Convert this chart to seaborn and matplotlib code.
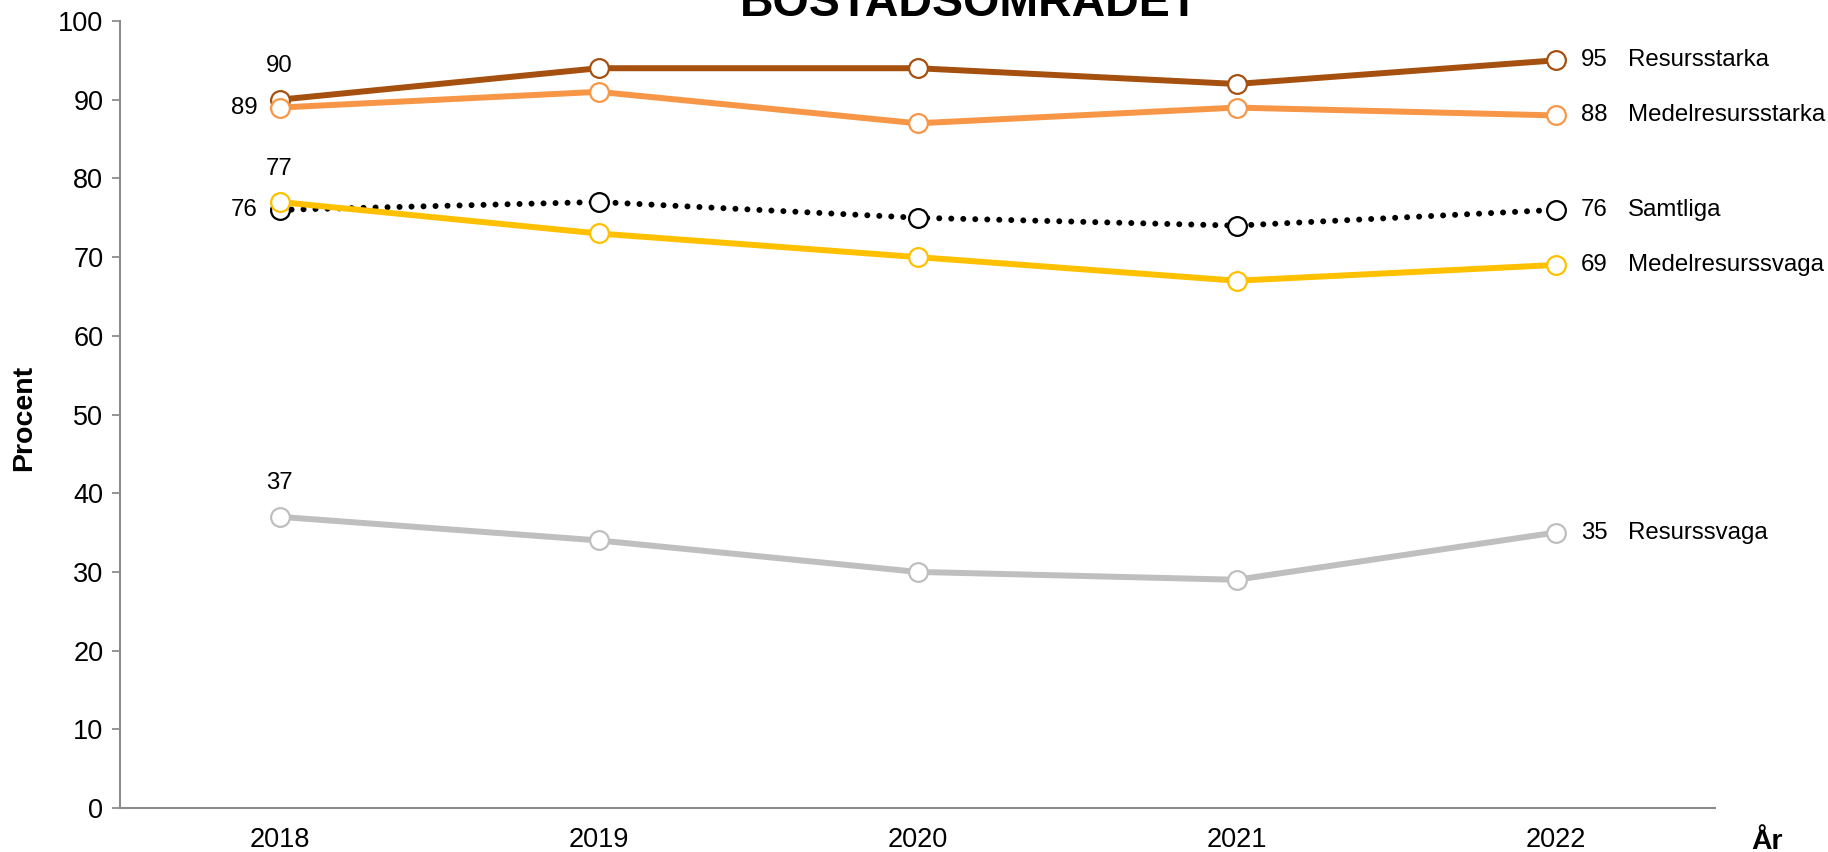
import matplotlib
matplotlib.use("Agg")
import matplotlib.pyplot as plt
import seaborn as sns
import pandas as pd

years = ["2018", "2019", "2020", "2021", "2022"]
resursstarka = [90, 94, 94, 92, 95]
medelresursstarka = [89, 91, 87, 89, 88]
samtliga = [76, 77, 75, 74, 76]
medelresurssvaga = [77, 73, 70, 67, 69]
resurssvaga = [37, 34, 30, 29, 35]

series_names = ["Resursstarka", "Medelresursstarka", "Samtliga", "Medelresurssvaga", "Resurssvaga"]
series_values = [resursstarka, medelresursstarka, samtliga, medelresurssvaga, resurssvaga]
colors = ["#A5500F", "#F79646", "#000000", "#FFC000", "#BFBFBF"]
# where the first-year value label sits relative to its point
first_label_pos = ["above", "left", "left", "above", "above"]

sns.set_theme(style="white")
plt.rcParams["font.family"] = ["Liberation Sans", "DejaVu Sans"]
plt.rcParams["text.color"] = "black"
plt.rcParams["xtick.color"] = "black"
plt.rcParams["ytick.color"] = "black"
plt.rcParams["axes.labelcolor"] = "black"

fig = plt.figure(figsize=(18.28, 8.52), dpi=100)
ax = fig.add_axes([120 / 1828, 44 / 852, (1715 - 120) / 1828, (808 - 21) / 852])

xs = list(range(len(years)))
for name, vals, col, pos in zip(series_names, series_values, colors, first_label_pos):
    df = pd.DataFrame({"x": xs, "y": vals})
    if name == "Samtliga":
        ls = (0, (0.01, 2.0))
    else:
        ls = "-"
    sns.lineplot(data=df, x="x", y="y", ax=ax, color=col, linewidth=4.3,
                 linestyle=ls, dash_capstyle="round", marker="o", markersize=13.5,
                 markerfacecolor="white", markeredgecolor=col, markeredgewidth=1.6,
                 legend=False)
    # first-year value label
    if pos == "above":
        ax.annotate(str(vals[0]), (xs[0], vals[0]), xytext=(0, 24), textcoords="offset points",
                    ha="center", va="center", fontsize=17.3, color="black")
    else:
        ax.annotate(str(vals[0]), (xs[0], vals[0]), xytext=(-16, 0), textcoords="offset points",
                    ha="right", va="center", fontsize=17.3, color="black")
    # last-year value and series name
    ax.annotate(str(vals[-1]), (xs[-1], vals[-1]), xytext=(18.5, 0), textcoords="offset points",
                ha="left", va="center", fontsize=17.3, color="black", annotation_clip=False)
    ax.annotate(name, (xs[-1], vals[-1]), xytext=(52, 0), textcoords="offset points",
                ha="left", va="center", fontsize=17.3, color="black", annotation_clip=False)

ax.set_xlim(-0.5, len(years) - 0.5)
ax.set_ylim(0, 100)
ax.set_yticks(range(0, 101, 10))
ax.set_xticks(xs)
ax.set_xticklabels(years)
ax.set_xticks([i - 0.5 for i in range(len(years) + 1)], minor=True)
ax.tick_params(axis="x", which="major", length=0, labelsize=19.5, pad=14)
ax.tick_params(axis="x", which="minor", length=6, width=1.3, color="#8C8C8C", direction="out")
ax.tick_params(axis="y", length=6, width=1.3, color="#8C8C8C", direction="out",
               labelsize=19.5, pad=6, left=True)
ax.set_xlabel("")
ax.set_ylabel("Procent", fontsize=20.5, fontweight="bold")
ax.yaxis.set_label_coords(-0.052, 0.495)

sns.despine(ax=ax)
for side in ["left", "bottom"]:
    ax.spines[side].set_color("#8C8C8C")
    ax.spines[side].set_linewidth(1.5)

fig.text(1767 / 1828, 1 - 849 / 852, "År", ha="center", va="baseline",
         fontsize=20.5, fontweight="bold")
fig.text(969 / 1828, 1 - 16 / 852, "BOSTADSOMRÅDET", ha="center", va="baseline",
         fontsize=33.5, fontweight="bold")

fig.savefig("out.png", dpi=100)
